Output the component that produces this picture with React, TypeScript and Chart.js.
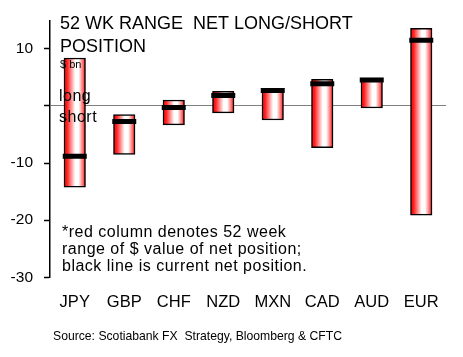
import React, { useEffect, useRef } from "react";
import { Chart, registerables } from "chart.js";

Chart.register(...registerables);

const categories = ["JPY", "GBP", "CHF", "NZD", "MXN", "CAD", "AUD", "EUR"];
const rangeLow = [-14.2, -8.5, -3.3, -1.2, -2.45, -7.3, -0.35, -19.1];
const rangeHigh = [8.4, -1.5, 1.05, 2.55, 3.0, 4.65, 4.9, 13.6];
const currentNet = [-8.8, -2.7, -0.25, 1.85, 2.7, 3.9, 4.55, 11.5];
const yTickValues = [-30, -20, -10, 0, 10];

const titleLines = ["52 WK RANGE  NET LONG/SHORT", "POSITION"];
const unitLabel = "$ bn";
const longShortLabels = ["long", "short"];
const noteLines = [
  "*red column denotes 52 week",
  "range of $ value of net position;",
  "black line is current net position.",
];
const sourceText = "Source: Scotiabank FX  Strategy, Bloomberg & CFTC";

const FONT = "'Liberation Sans', Arial, sans-serif";
const BAR_W = 21.5;

const textPlugin = {
  id: "textPlugin",
  afterDraw(chart: any) {
    const ctx = chart.ctx;
    ctx.save();
    ctx.fillStyle = "#000";
    ctx.textAlign = "left";
    ctx.textBaseline = "alphabetic";
    ctx.font = `18px ${FONT}`;
    ctx.fillText(titleLines[0], 60, 29);
    ctx.fillText(titleLines[1], 60, 51.5);
    ctx.font = `11px ${FONT}`;
    ctx.fillText(unitLabel, 60, 68);
    ctx.font = `16px ${FONT}`;
    (ctx as any).letterSpacing = "0.5px";
    ctx.fillText(longShortLabels[0], 59, 101);
    ctx.fillText(longShortLabels[1], 59, 121.5);
    ctx.fillText(noteLines[0], 62, 236.5);
    ctx.fillText(noteLines[1], 62, 254);
    ctx.fillText(noteLines[2], 62, 271);
    (ctx as any).letterSpacing = "0px";
    ctx.font = `12.2px ${FONT}`;
    ctx.fillText(sourceText, 53, 340);
    ctx.restore();
  },
};

function barFill(c: any) {
  const chart = c.chart;
  const xs = chart.scales && chart.scales.x;
  if (!xs || c.dataIndex === undefined) return "#ff0000";
  const x = xs.getPixelForValue(c.dataIndex);
  if (!isFinite(x)) return "#ff0000";
  const g = chart.ctx.createLinearGradient(x - BAR_W / 2, 0, x + BAR_W / 2, 0);
  g.addColorStop(0, "#ff0000");
  g.addColorStop(0.15, "#ff2020");
  g.addColorStop(0.52, "#ffffff");
  g.addColorStop(0.68, "#ffffff");
  g.addColorStop(0.9, "#ff6060");
  g.addColorStop(1, "#ff0000");
  return g;
}

export default function App() {
  const ref = useRef<HTMLCanvasElement | null>(null);
  useEffect(() => {
    if (!ref.current) return;
    const chart = new Chart(ref.current, {
      type: "bar",
      data: {
        labels: categories,
        datasets: [
          {
            type: "line",
            data: currentNet,
            showLine: false,
            pointStyle: "line",
            pointRadius: 12,
            pointHoverRadius: 12,
            borderColor: "#000",
            backgroundColor: "#000",
            borderWidth: 5,
            order: 0,
          } as any,
          {
            type: "bar",
            data: categories.map((_, i) => [rangeLow[i], rangeHigh[i]]),
            backgroundColor: barFill,
            borderColor: "#000",
            borderWidth: 1.5,
            borderSkipped: false,
            barThickness: BAR_W,
            order: 1,
          } as any,
        ],
      },
      options: {
        responsive: false,
        animation: false,
        events: [],
        layout: { padding: { left: 0, top: 19.5, right: 9, bottom: 0 } },
        plugins: { legend: { display: false }, tooltip: { enabled: false }, title: { display: false } },
        scales: {
          x: {
            grid: { display: false },
            border: { display: false },
            ticks: { color: "#000", font: { family: FONT, size: 16.5 }, padding: 7 },
            afterFit: (s: any) => {
              s.height = 79.7;
            },
          },
          y: {
            min: -30,
            max: 15,
            ticks: {
              stepSize: 10,
              color: "#000",
              font: { family: FONT, size: 15.5 },
              padding: 11,
              callback: (v: any) => (v === 0 ? "" : String(v)),
            },
            afterBuildTicks: (s: any) => {
              s.ticks = yTickValues.map((v) => ({ value: v }));
            },
            grid: {
              drawOnChartArea: true,
              color: (c: any) => (c.tick && c.tick.value === 0 ? "#808080" : "rgba(0,0,0,0)"),
              lineWidth: 1,
              tickLength: 6,
              tickColor: "#000",
              tickWidth: 1.5,
            },
            border: { display: true, color: "#000", width: 1.5 },
            afterFit: (s: any) => {
              s.width = 50;
            },
          },
        },
      },
      plugins: [textPlugin],
    });
    return () => chart.destroy();
  }, []);
  return (
    <div style={{ position: "absolute", left: 0, top: 0, width: 463, height: 357, background: "#fff" }}>
      <canvas ref={ref} width={463} height={357} style={{ display: "block" }} />
    </div>
  );
}
